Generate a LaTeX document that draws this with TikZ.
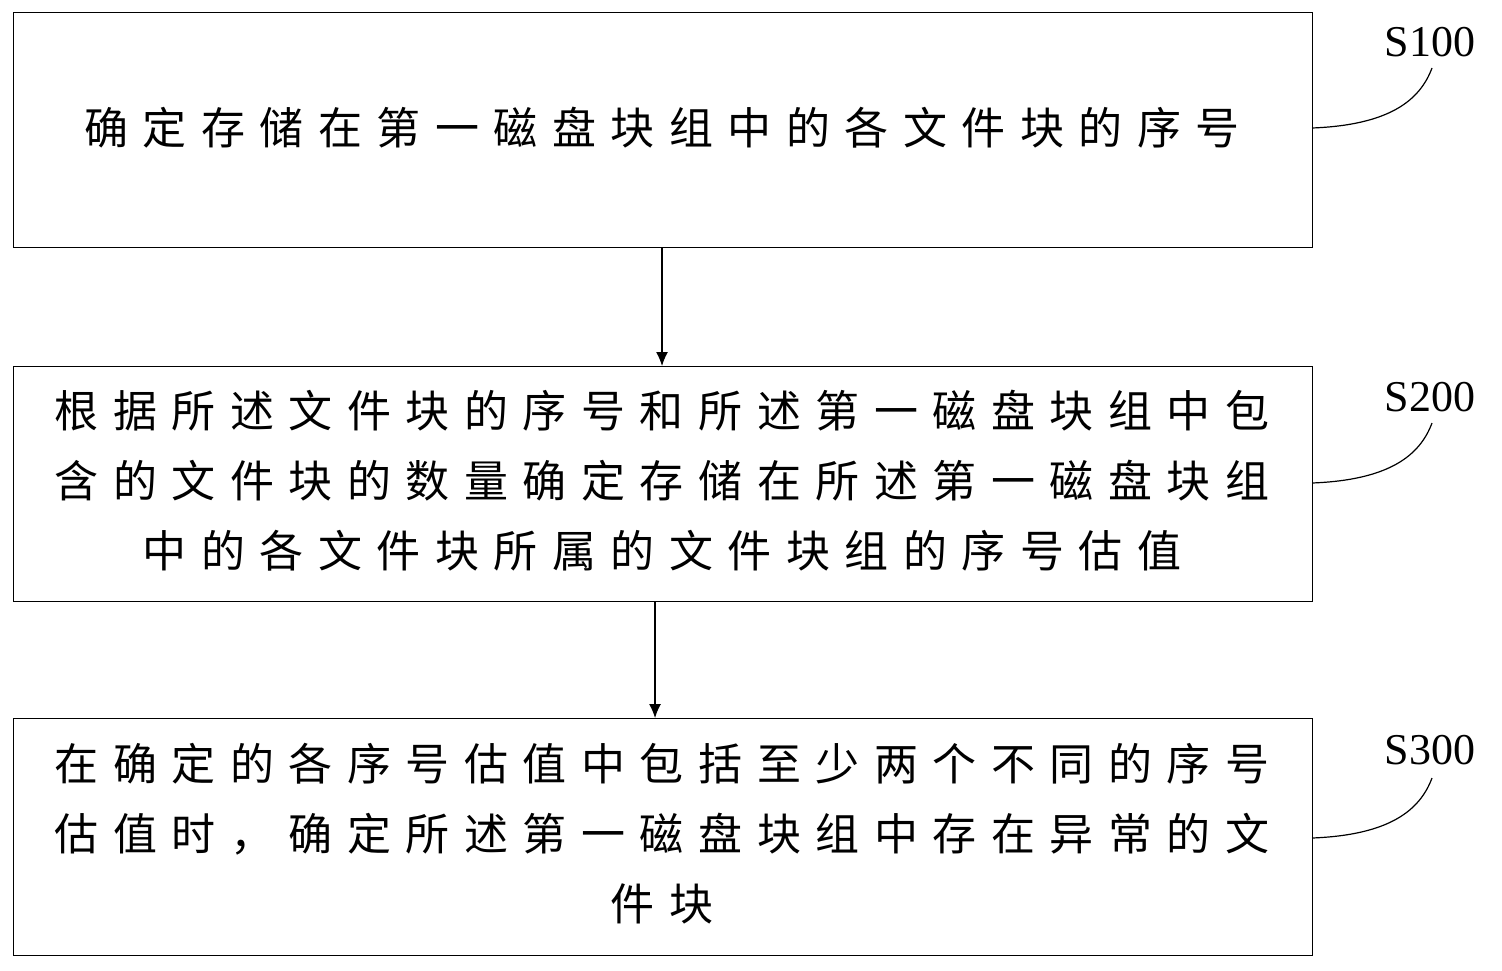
\documentclass[tikz,border=0pt]{standalone}
\usepackage{fontspec}
\usetikzlibrary{arrows.meta}
\newfontfamily\cjk[LetterSpace=33]{Noto Sans CJK SC}
\setmainfont{Liberation Serif}
\begin{document}
\begin{tikzpicture}[x=0.5pt,y=-0.5pt,
 box/.style={draw,line width=0.6pt,anchor=north west,inner sep=0pt},
 txt/.style={align=center,font=\cjk\fontsize{22}{35}\selectfont},
 lab/.style={font=\fontsize{22}{24}\selectfont},
 arr/.style={-{Latex[length=7pt,width=6pt]},line width=0.6pt}]
\useasboundingbox (0,0) rectangle (1502,970);
\node[box,minimum width=649.5pt,minimum height=117.5pt] (b1) at (13,12) {};
\node[box,minimum width=649.5pt,minimum height=117.5pt] (b2) at (13,366) {};
\node[box,minimum width=649.5pt,minimum height=118.5pt] (b3) at (13,718) {};
\node[txt] (t1) at (662,128) {确定存储在第一磁盘块组中的各文件块的序号};
\node[txt] (t2) at (662,481) {根据所述文件块的序号和所述第一磁盘块组中包\\含的文件块的数量确定存储在所述第一磁盘块组\\中的各文件块所属的文件块组的序号估值};
\node[txt] (t3) at (662,834) {在确定的各序号估值中包括至少两个不同的序号\\估值时，确定所述第一磁盘块组中存在异常的文\\件块};
\node[lab] (l1) at (1430,42) {S100};
\node[lab] (l2) at (1430,397) {S200};
\node[lab] (l3) at (1430,750) {S300};
\coordinate (c1) at (1312,128); \coordinate (c2) at (1312,483); \coordinate (c3) at (1312,838);
\draw[line width=0.6pt] (c1) .. controls (1390,125) and (1420,100) .. (1432,68);
\draw[line width=0.6pt] (c2) .. controls (1390,480) and (1420,455) .. (1432,423);
\draw[line width=0.6pt] (c3) .. controls (1390,835) and (1420,810) .. (1432,778);
\draw[arr] (662,247) -- (b2.north -| 662,0);
\draw[arr] (655,601) -- (b3.north -| 655,0);
\end{tikzpicture}
\end{document}
